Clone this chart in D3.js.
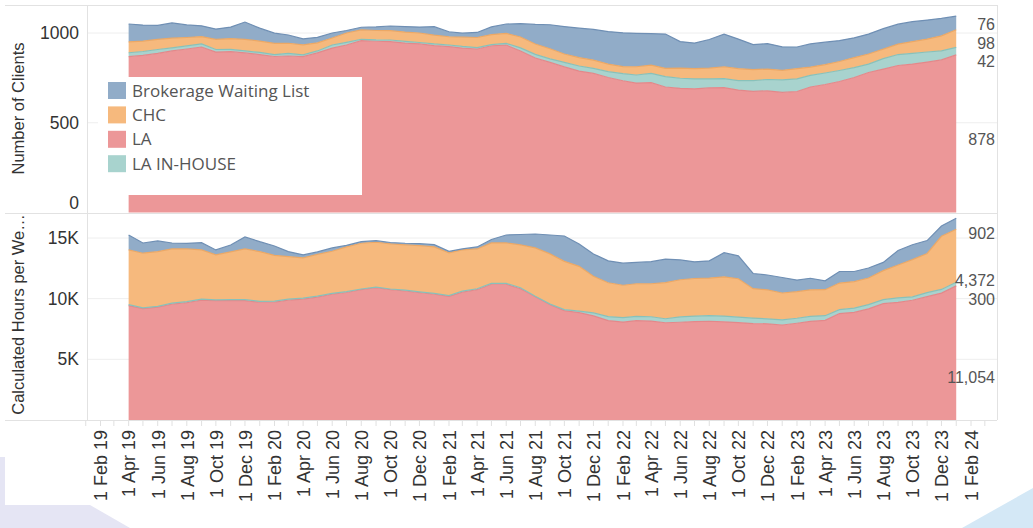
<!DOCTYPE html>
<html><head><meta charset="utf-8">
<script src="https://cdn.jsdelivr.net/npm/d3@7"></script>
<style>body{margin:0;background:#fff;overflow:hidden}svg{display:block}</style>
</head><body>
<svg id="chart" width="1033" height="528"></svg>
<script>
// ---------- DATA ----------
const months = ["2019-04","2019-05","2019-06","2019-07","2019-08","2019-09","2019-10","2019-11","2019-12",
"2020-01","2020-02","2020-03","2020-04","2020-05","2020-06","2020-07","2020-08","2020-09","2020-10","2020-11","2020-12",
"2021-01","2021-02","2021-03","2021-04","2021-05","2021-06","2021-07","2021-08","2021-09","2021-10","2021-11","2021-12",
"2022-01","2022-02","2022-03","2022-04","2022-05","2022-06","2022-07","2022-08","2022-09","2022-10","2022-11","2022-12",
"2023-01","2023-02","2023-03","2023-04","2023-05","2023-06","2023-07","2023-08","2023-09","2023-10","2023-11","2023-12",
"2024-01"];
const seriesNames = ["Brokerage Waiting List","CHC","LA","LA IN-HOUSE"];
const stackOrder = ["LA","LA IN-HOUSE","CHC","Brokerage Waiting List"];

// Number of Clients
const clientsLA = [868,875,886,900,911,922,894,896,889,880,869,872,868,889,916,933,957,954,952,944,939,930,924,916,911,929,933,900,861,836,811,788,775,752,734,721,723,699,692,689,694,696,682,675,678,669,674,699,713,730,752,780,799,819,827,838,850,878];
const clientsInHouse = [22,22,22,17,17,17,14,13,11,12,11,15,10,11,17,15,8,8,9,9,8,9,9,9,8,6,9,17,20,20,25,28,28,33,40,45,52,58,56,55,50,50,53,60,63,70,70,65,64,61,55,47,58,61,60,56,50,42];
const clientsCHC = [61,58,56,54,47,41,56,60,64,63,62,56,56,45,39,52,52,52,52,52,53,49,46,52,56,56,56,61,58,56,47,47,46,42,39,46,46,46,56,58,60,66,67,61,58,53,58,46,47,50,56,56,53,58,65,72,84,98];
const clientsBWL = [99,89,78,85,70,60,58,64,97,72,57,46,33,31,28,14,15,20,26,31,33,47,28,22,28,43,52,74,109,134,153,164,171,181,188,186,175,191,148,142,160,182,164,139,142,131,120,129,125,117,110,111,114,111,111,106,97,76];

// Calculated Hours per Week
const hoursLA = [9427,9181,9304,9549,9672,9878,9836,9836,9836,9713,9713,9878,9959,10123,10369,10509,10738,10902,10738,10632,10492,10369,10189,10533,10738,11189,11189,10820,10164,9509,9017,8853,8582,8197,8074,8197,8156,8017,8058,8115,8140,8090,8033,7951,7927,7828,7976,8131,8213,8771,8869,9164,9590,9697,9869,10164,10459,11054];
const hoursInHouse = [82,57,57,82,82,82,57,82,82,66,82,82,82,82,66,66,57,57,57,66,66,66,57,82,82,66,66,82,41,41,82,123,246,328,369,344,352,328,443,451,467,475,451,451,410,426,410,410,385,328,352,344,328,361,279,328,303,300];
const hoursCHC = [4508,4508,4517,4467,4344,4058,3713,3935,4180,4099,3771,3508,3320,3443,3476,3689,3771,3689,3713,3730,3812,3828,3525,3402,3279,3336,3336,3525,3976,4139,3976,3689,3016,2787,2664,2689,2721,2984,3057,3098,3090,3238,3156,2418,2385,2213,2189,2189,2139,2189,2189,2197,2394,2713,3066,3230,4377,4372];
const hoursBWL = [1230,844,877,492,467,598,410,574,984,820,779,410,246,205,270,123,131,131,123,139,164,189,123,82,164,287,656,861,1148,1557,2090,1844,1844,1803,1820,1754,1820,1926,1639,1369,1418,1984,1885,1254,1230,1279,959,951,738,951,828,820,680,1197,1230,1066,844,902];

const xTickLabels = ["2019-02","2019-04","2019-06","2019-08","2019-10","2019-12","2020-02","2020-04","2020-06","2020-08","2020-10","2020-12",
"2021-02","2021-04","2021-06","2021-08","2021-10","2021-12","2022-02","2022-04","2022-06","2022-08","2022-10","2022-12",
"2023-02","2023-04","2023-06","2023-08","2023-10","2023-12","2024-02"];
const clientTicks = [0,500,1000];
const hourTicks = [5000,10000,15000];

// ---------- SETUP ----------
const svg = d3.select("#chart");
const parse = d3.timeParse("%Y-%m");
const dates = months.map(parse);

const fills = {"Brokerage Waiting List":"#91acc8","CHC":"#f6b97d","LA":"#ec9798","LA IN-HOUSE":"#a8d3ce"};
const edges = {"Brokerage Waiting List":"#6f8fb4","CHC":"#eca865","LA":"#e3888a","LA IN-HOUSE":"#88c1ba"};

const L = 87, R = 997;
const x = d3.scaleTime().domain([parse("2019-02"), parse("2024-02")]).range([100.5, 971]);
const yTop = d3.scaleLinear().domain([0,1000]).range([212.5, 33]);
const yBot = d3.scaleLinear().domain([0,15000]).range([420, 238]);

// background decorations
svg.append("polygon").attr("points","0,457 5,457 5,505 90,505 130,528 0,528").attr("fill","#e5e5f4");
svg.append("polygon").attr("points","962,528 1033,488 1033,528").attr("fill","#d4e8f6");

function makeRows(la, ih, chc, bwl){
  return dates.map((d,i)=>({date:d,"LA":la[i],"LA IN-HOUSE":ih[i],"CHC":chc[i],"Brokerage Waiting List":bwl[i]}));
}
const rowsC = makeRows(clientsLA, clientsInHouse, clientsCHC, clientsBWL);
const rowsH = makeRows(hoursLA, hoursInHouse, hoursCHC, hoursBWL);
const stack = d3.stack().keys(stackOrder);

// gridlines
function grid(scale, ticks){
  svg.append("g").selectAll("line").data(ticks).join("line")
    .attr("x1",L).attr("x2",R).attr("y1",d=>scale(d)).attr("y2",d=>scale(d))
    .attr("stroke","#eeeeee").attr("stroke-width",1);
}
grid(yTop, clientTicks.filter(d=>d>0));
grid(yBot, hourTicks);

function drawPanel(rows, y){
  const s = stack(rows);
  const area = d3.area().x(d=>x(d.data.date)).y0(d=>y(d[0])).y1(d=>y(d[1]));
  const line = d3.line().x(d=>x(d.data.date)).y(d=>y(d[1]));
  const g = svg.append("g");
  g.selectAll("path.a").data(s).join("path").attr("class","a")
    .attr("d",area).attr("fill",d=>fills[d.key]);
  g.selectAll("path.l").data(s).join("path").attr("class","l")
    .attr("d",line).attr("fill","none").attr("stroke",d=>edges[d.key]).attr("stroke-width",1.2);
}
drawPanel(rowsC, yTop);
drawPanel(rowsH, yBot);

// frame lines
const frame = svg.append("g").attr("stroke","#e2e2e2").attr("stroke-width",1).attr("shape-rendering","crispEdges");
frame.append("line").attr("x1",5).attr("x2",R).attr("y1",5).attr("y2",5);
frame.append("line").attr("x1",5).attr("x2",R).attr("y1",213).attr("y2",213);
frame.append("line").attr("x1",5).attr("x2",R).attr("y1",420).attr("y2",420);
frame.append("line").attr("x1",L).attr("x2",L).attr("y1",5).attr("y2",420);
frame.append("line").attr("x1",R).attr("x2",R).attr("y1",5).attr("y2",420);

// y axes
const tickFont = "'Liberation Sans', Arial, sans-serif";
const axTop = svg.append("g").attr("transform",`translate(${L},0)`)
  .call(d3.axisLeft(yTop).tickValues(clientTicks).tickSize(0).tickPadding(8).tickFormat(d3.format("d")));
axTop.selectAll("text").filter(d=>d===0).attr("dy","-0.25em");
const axBot = svg.append("g").attr("transform",`translate(${L},0)`)
  .call(d3.axisLeft(yBot).tickValues(hourTicks).tickSize(0).tickPadding(8).tickFormat(d=>d/1000+"K"));
[axTop, axBot].forEach(a=>{
  a.select(".domain").remove();
  a.selectAll("text").attr("font-family",tickFont).attr("font-size","17.5px").attr("fill","#333");
});

// axis titles
svg.append("text").attr("transform","translate(18,108.5) rotate(-90)")
  .attr("text-anchor","middle").attr("dy","0.35em").attr("font-family",tickFont).attr("font-size","16.5px").attr("fill","#333")
  .text("Number of Clients");
svg.append("text").attr("transform","translate(18,314.5) rotate(-90)")
  .attr("text-anchor","middle").attr("dy","0.35em").attr("font-family",tickFont).attr("font-size","16.5px").attr("fill","#333")
  .text("Calculated Hours per We\u2026");

// x axis minor ticks (monthly)
svg.append("g").selectAll("line").data(d3.timeMonth.range(parse("2019-01"), parse("2024-04")))
  .join("line").attr("x1",d=>x(d)).attr("x2",d=>x(d)).attr("y1",421).attr("y2",426)
  .attr("stroke","#e0e0e0").attr("stroke-width",1);

const axX = svg.append("g").attr("transform","translate(0,419)")
  .call(d3.axisBottom(x).tickValues(xTickLabels.map(parse)).tickSize(0).tickFormat(d3.timeFormat("1 %b %y")));
axX.select(".domain").remove();
axX.selectAll("text").attr("transform","rotate(-90)").attr("x",-11).attr("y",0).attr("dy","0.35em")
  .attr("text-anchor","end").attr("font-family",tickFont).attr("font-size","18px").attr("fill","#333");

// legend
const leg = svg.append("g");
leg.append("rect").attr("x",98).attr("y",77).attr("width",264).attr("height",118).attr("fill","#fff");
const li = leg.selectAll("g.item").data(seriesNames).join("g").attr("class","item")
  .attr("transform",(d,i)=>`translate(108,${82+i*24.4})`);
li.append("rect").attr("width",18).attr("height",17).attr("fill",d=>fills[d]);
li.append("text").attr("x",24).attr("y",14.5).attr("font-family","'Open Sans', sans-serif").attr("font-size","17px")
  .attr("fill","#555").text(d=>d);

// end labels
const fmt = d3.format(",");
const last = rowsC.length-1;
const topLabelY = {"Brokerage Waiting List":24.5,"CHC":43,"LA IN-HOUSE":61.5,"LA":139};
const botLabelY = {"Brokerage Waiting List":233,"CHC":280.5,"LA IN-HOUSE":299.5,"LA":377};
const lab = svg.append("g").attr("font-family",tickFont).attr("font-size","16px").attr("fill","#555").attr("text-anchor","end");
lab.selectAll("text.t").data(seriesNames).join("text").attr("class","t")
  .attr("x",995).attr("y",d=>topLabelY[d]).attr("dy","0.35em").text(d=>fmt(rowsC[last][d]));
lab.selectAll("text.b").data(seriesNames).join("text").attr("class","b")
  .attr("x",995).attr("y",d=>botLabelY[d]).attr("dy","0.35em").text(d=>fmt(rowsH[last][d]));
</script>
</body></html>
